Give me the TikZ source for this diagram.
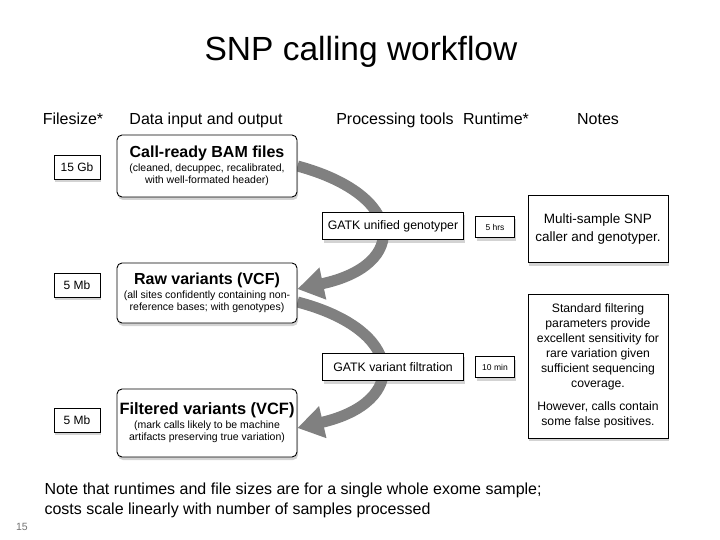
\documentclass[tikz,border=0pt]{standalone}
\usepackage{fontspec}
\setmainfont{Liberation Sans}
\usetikzlibrary{arrows.meta,shadows,backgrounds}

\begin{document}
\begin{tikzpicture}[x=1pt, y=-1pt,
    box/.style={draw, fill=white, line width=0.9pt,
        drop shadow={opacity=0.35, shadow xshift=1pt, shadow yshift=-3pt}},
    sizebox/.style={box, minimum width=46pt, minimum height=24pt, inner sep=0pt,
        font=\fontsize{12}{14}\selectfont},
    databox/.style={box, rounded corners=5pt, minimum width=180pt, align=center,
        inner sep=0pt, font=\fontsize{10.5}{12.5}\selectfont},
    toolbox/.style={box, minimum width=141pt, minimum height=27pt, inner sep=0pt,
        font=\fontsize{12.3}{14}\selectfont},
    timebox/.style={box, minimum width=39pt, minimum height=21pt, inner sep=0pt,
        font=\fontsize{8.5}{10}\selectfont},
    notebox/.style={box, minimum width=140pt, align=center, inner sep=0pt,
        font=\fontsize{12.2}{15}\selectfont},
    head/.style={anchor=base, font=\fontsize{16}{19}\selectfont},
    flow/.style={draw=black!50, line width=11pt, -{Triangle[width=31pt,length=26pt]}}
]
    \useasboundingbox (0,0) rectangle (720,540);

    \node[font=\fontsize{33.5}{38}\selectfont] (title) at (361,52) {SNP calling workflow};

    % column headers
    \node[head] (hsize) at (73,125) {Filesize*};
    \node[head] (hdata) at (206,125) {Data input and output};
    \node[head] (htool) at (395,125) {Processing tools};
    \node[head] (htime) at (496,125) {Runtime*};
    \node[head] (hnote) at (598,125) {Notes};

    % file sizes
    \node[sizebox] (s1) at (77,167) {15 Gb};
    \node[sizebox] (s2) at (77,285) {5 Mb};
    \node[sizebox] (s3) at (77,420) {5 Mb};

    % data
    \node[databox, minimum height=62pt] (bam) at (207,166)
        {{\fontsize{16}{18}\selectfont\bfseries Call-ready BAM files}\\[1pt]
         (cleaned, decuppec, recalibrated,\\ with well-formated header)};
    \node[databox, minimum height=60pt] (raw) at (207,293)
        {{\fontsize{16}{18}\selectfont\bfseries Raw variants (VCF)}\\[1pt]
         (all sites confidently containing non-\\ reference bases; with genotypes)};
    \node[databox, minimum height=68pt] (filt) at (207,423)
        {{\fontsize{16.4}{19}\selectfont\bfseries Filtered variants (VCF)}\\[1pt]
         (mark calls likely to be machine\\ artifacts preserving true variation)};

    % tools
    \node[toolbox] (ug) at (393,226) {GATK unified genotyper};
    \node[toolbox] (vf) at (393,367) {GATK variant filtration};

    % runtimes
    \node[timebox] (t1) at (495,227) {5 hrs};
    \node[timebox] (t2) at (495,367) {10 min};

    % notes
    \node[notebox, minimum height=67pt, font=\fontsize{13.5}{18}\selectfont] (n1) at (598,229)
        {Multi-sample SNP\\ caller and genotyper.};
    \node[notebox, minimum height=144pt] (n2) at (598,366)
        {Standard filtering\\ parameters provide\\ excellent sensitivity for\\
         rare variation given\\ sufficient sequencing\\ coverage.\\[8pt]
         However, calls contain\\ some false positives.};

    \begin{scope}[on background layer]
        \draw[flow] (bam.east) .. controls (405,195) and (410,265) .. ([yshift=4pt]raw.east);
        \draw[flow] ([yshift=-9pt]raw.east) .. controls (405,330) and (410,402) .. ([yshift=-5pt]filt.east);
    \end{scope}

    \node[anchor=north west, align=left, font=\fontsize{16}{20}\selectfont] (foot) at (41,479)
        {Note that runtimes and file sizes are for a single whole exome sample;\\
         costs scale linearly with number of samples processed};
    \node[text=black!55, font=\fontsize{10.5}{12}\selectfont] (page) at (22,527) {15};
\end{tikzpicture}
\end{document}
